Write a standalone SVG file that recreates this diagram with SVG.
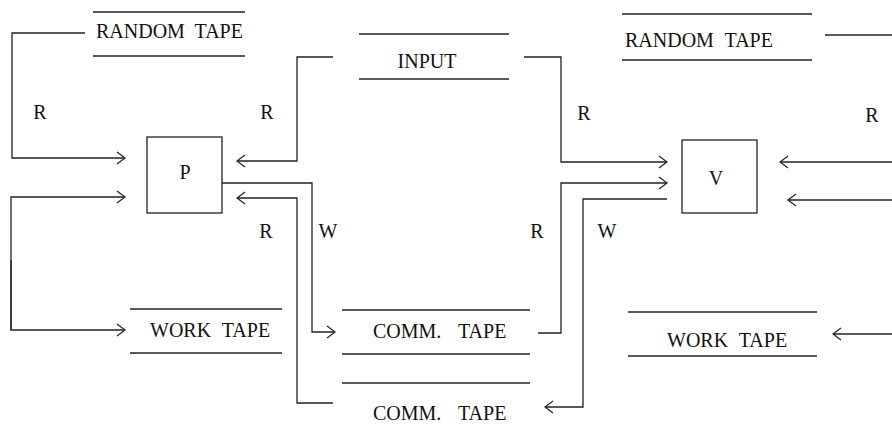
<svg xmlns="http://www.w3.org/2000/svg" width="892" height="427" viewBox="0 0 892 427">
<style>
text{font-family:"Liberation Serif","Times New Roman",serif;fill:#111;font-size:20px}
.lbl{text-anchor:middle}
.tape{stroke:#222;stroke-width:1.3;fill:none}
.box{stroke:#222;stroke-width:1.3;fill:none}
.c{stroke:#222;stroke-width:1.3;fill:none}
.a{marker-end:url(#ah)}
</style>
<defs>
<marker id="ah" markerUnits="userSpaceOnUse" viewBox="-10 -8 12 16" refX="0" refY="0" markerWidth="12" markerHeight="16" orient="auto">
<path d="M-8,-6 L0,0 L-8,6" fill="none" stroke="#222" stroke-width="1.2"/>
</marker>
</defs>
<rect width="892" height="427" fill="#fff"/>
<g id="randomTapeP">
<line class="tape" x1="93" y1="12" x2="245" y2="12"/>
<line class="tape" x1="93" y1="56" x2="245" y2="56"/>
<text x="96" y="38" word-spacing="5">RANDOM TAPE</text>
</g>
<g id="input">
<line class="tape" x1="359" y1="34" x2="509" y2="34"/>
<line class="tape" x1="359" y1="79" x2="509" y2="79"/>
<text class="lbl" x="427" y="68">INPUT</text>
</g>
<g id="randomTapeV">
<line class="tape" x1="622" y1="14" x2="812" y2="14"/>
<line class="tape" x1="622" y1="60" x2="812" y2="60"/>
<text x="625" y="47" font-size="21" word-spacing="6">RANDOM TAPE</text>
</g>
<g id="P">
<rect class="box" x="147" y="137" width="75" height="76"/>
<text class="lbl" x="185" y="179">P</text>
</g>
<g id="V">
<rect class="box" x="682" y="140" width="75" height="73"/>
<text class="lbl" x="716" y="185">V</text>
</g>
<g id="workTapeP">
<line class="tape" x1="130" y1="309" x2="282" y2="309"/>
<line class="tape" x1="130" y1="353" x2="282" y2="353"/>
<text x="150" y="337" word-spacing="6">WORK TAPE</text>
</g>
<g id="commTape1">
<line class="tape" x1="342" y1="310" x2="530" y2="310"/>
<line class="tape" x1="342" y1="354" x2="530" y2="354"/>
<text x="373" y="338" word-spacing="12">COMM. TAPE</text>
</g>
<g id="commTape2">
<line class="tape" x1="342" y1="383" x2="530" y2="383"/>
<text x="373" y="420" word-spacing="12">COMM. TAPE</text>
</g>
<g id="workTapeV">
<line class="tape" x1="628" y1="312" x2="817" y2="312"/>
<line class="tape" x1="628" y1="356" x2="817" y2="356"/>
<text x="667" y="347" word-spacing="6">WORK TAPE</text>
</g>
<g id="connectors">
<polyline class="c a" points="85,33 12,33 12,158 125,158"/>
<polyline class="c a" points="11,330 11,197 125,197"/>
<polyline class="c a" points="11,260 11,330 125,330"/>
<polyline class="c a" points="333,57 297,57 297,161 237,161"/>
<polyline class="c a" points="222,183 312,183 312,332 335,332"/>
<polyline class="c a" points="333,403 297,403 297,198 237,198"/>
<polyline class="c a" points="524,57 561,57 561,162 667,162"/>
<polyline class="c a" points="538,333 561,333 561,183 667,183"/>
<polyline class="c a" points="667,199 583,199 583,407 545,407"/>
<line class="c" x1="825" y1="35" x2="892" y2="35"/>
<polyline class="c a" points="892,162 780,162"/>
<polyline class="c a" points="892,200 788,200"/>
<polyline class="c a" points="892,334 833,334"/>
</g>
<g id="labels">
<text class="lbl" x="40" y="119">R</text>
<text class="lbl" x="267" y="119">R</text>
<text class="lbl" x="584" y="120">R</text>
<text class="lbl" x="872" y="122">R</text>
<text class="lbl" x="266" y="238">R</text>
<text class="lbl" x="328" y="238">W</text>
<text class="lbl" x="537" y="238">R</text>
<text class="lbl" x="607" y="238">W</text>
</g>
</svg>
